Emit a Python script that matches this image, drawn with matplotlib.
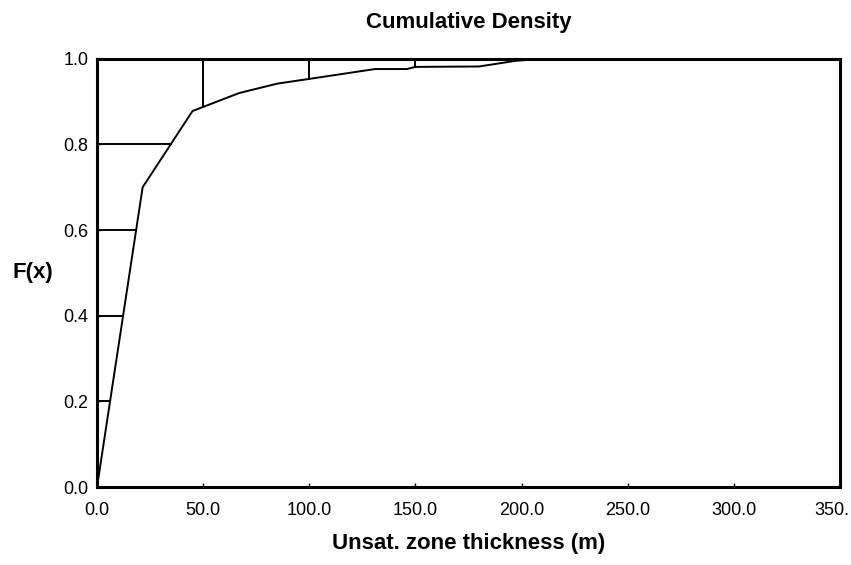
import numpy as np
import matplotlib.pyplot as plt
import matplotlib.transforms as mtransforms
from matplotlib import font_manager

# cumulative density curve
thickness = [0.0, 21.5, 45.0, 67.0, 85.0, 100.0, 131.0, 146.0, 150.0, 180.0, 197.0, 210.0, 350.0]
cdf = [0.0, 0.70, 0.878, 0.92, 0.942, 0.953, 0.976, 0.976, 0.981, 0.982, 0.995, 1.0, 1.0]

x_ticks = [0, 50, 100, 150, 200, 250, 300, 350]
x_labels = ["0.0", "50.0", "100.0", "150.0", "200.0", "250.0", "300.0", "350."]
y_ticks = [0.0, 0.2, 0.4, 0.6, 0.8, 1.0]
y_labels = ["0.0", "0.2", "0.4", "0.6", "0.8", "1.0"]

names = {f.name for f in font_manager.fontManager.ttflist}
font = "Liberation Sans Narrow" if "Liberation Sans Narrow" in names else "Liberation Sans"
plt.rcParams["font.family"] = [font, "DejaVu Sans"]


def display_cdf():
    fig = plt.figure(figsize=(8.51, 5.65), dpi=100)
    ax = fig.add_axes([0.114, 0.138, 0.873, 0.758])

    ax.plot(thickness, cdf, color="black", lw=1.4, zorder=3)

    # grid lines only in the region above / left of the curve
    for y in y_ticks[1:-1]:
        x_end = np.interp(y, cdf[:7], thickness[:7])
        ax.plot([0, x_end], [y, y], color="black", lw=1.4, zorder=2)
    for x in x_ticks[1:-1]:
        y_end = np.interp(x, thickness, cdf)
        ax.plot([x, x], [y_end, 1.0], color="black", lw=1.4, zorder=2)

    ax.set_xlim(0, 350)
    ax.set_ylim(0, 1.0)
    ax.set_xticks(x_ticks)
    ax.set_xticklabels(x_labels)
    ax.set_yticks(y_ticks)
    ax.set_yticklabels(y_labels)
    ax.tick_params(direction="in", length=3, width=1, labelsize=13, pad=6)
    ax.tick_params(axis="x", pad=11)
    for s in ax.spines.values():
        s.set_linewidth(2.2)

    last = ax.get_xticklabels()[-1]
    last.set_horizontalalignment("right")
    last.set_transform(last.get_transform() + mtransforms.ScaledTranslation(0.09, 0, fig.dpi_scale_trans))

    ax.set_title("Cumulative Density", fontsize=16, fontweight="bold", pad=22)
    ax.set_xlabel("Unsat. zone thickness (m)", fontsize=16, fontweight="bold", labelpad=10)
    ax.set_ylabel("F(x)", fontsize=16, fontweight="bold", rotation=0, labelpad=22, va="center")

    fig.savefig("out.png", dpi=100)


display_cdf()
